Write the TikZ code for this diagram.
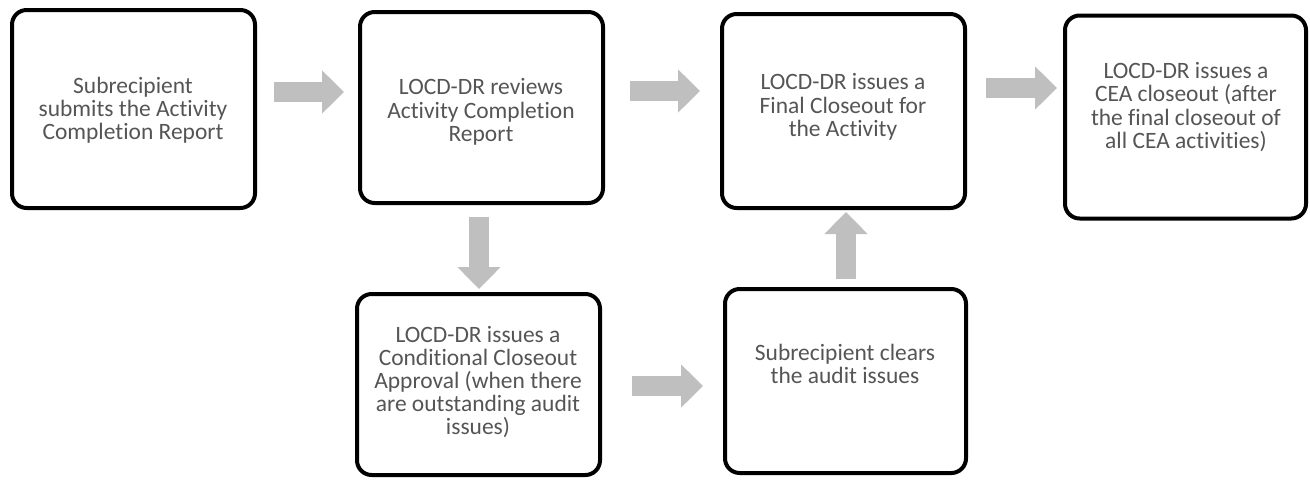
\documentclass[tikz,border=0pt]{standalone}
\usepackage{fontspec}
\setmainfont{Carlito}[Ligatures=NoCommon]
\usetikzlibrary{arrows.meta,calc}
\definecolor{txtgray}{HTML}{555555}
\definecolor{arrgray}{HTML}{BFBFBF}
\begin{document}
\begin{tikzpicture}[x=0.75pt,y=-0.75pt,
  box/.style={draw=black,line width=3pt,rounded corners=11pt,fill=white,inner sep=0pt},
  txt/.style={text=txtgray,align=center,font=\fontsize{17.6}{17.4}\selectfont,inner sep=0pt},
  barrow/.style={draw=arrgray,line width=15pt,-{Triangle[width=31.5pt,length=16.5pt]}}]
\useasboundingbox (0,0) rectangle (1310,479);
% boxes
\node[box,minimum width=182.25pt,minimum height=148.5pt] (b1) at (133.5,109) {};
\node[box,minimum width=182.25pt,minimum height=143.25pt] (b2) at (481.5,107.5) {};
\node[box,minimum width=182.25pt,minimum height=145.5pt] (b3) at (843.5,111) {};
\node[box,minimum width=180.75pt,minimum height=152.25pt] (b4) at (1185.5,117) {};
\node[box,minimum width=182.25pt,minimum height=135.75pt] (b5) at (478.5,384.5) {};
\node[box,minimum width=180.75pt,minimum height=138pt] (b6) at (845.5,381) {};
% texts
\node[txt] (t1) at (133,110) {Subrecipient\\submits the Activity\\Completion Report};
\node[txt] (t2) at (481,112) {LOCD-DR reviews\\Activity Completion\\Report};
\node[txt] (t3) at (843,107) {LOCD-DR issues a\\Final Closeout for\\the Activity};
\node[txt] (t4) at (1186,107) {LOCD-DR issues a\\CEA closeout (after\\the final closeout of\\all CEA activities)};
\node[txt] (t5) at (478,382) {LOCD-DR issues a\\Conditional Closeout\\Approval (when there\\are outstanding audit\\issues)};
\node[txt] (t6) at (845,364) {Subrecipient clears\\the audit issues};
% arrows
\draw[barrow] ([xshift=12.75pt,yshift=12.75pt]b1.east) coordinate (s12) -- ([xshift=-10.5pt]b2.west |- s12);
\draw[barrow] ([xshift=18.75pt,yshift=12.375pt]b2.east) coordinate (s23) -- ([xshift=-15pt]b3.west |- s23);
\draw[barrow] ([xshift=14.25pt,yshift=17.25pt]b3.east) coordinate (s34) -- ([xshift=-4.5pt]b4.west |- s34);
\draw[barrow] ([xshift=-1.875pt,yshift=-9pt]b2.south) coordinate (s25) -- ([yshift=2.25pt]b5.north -| s25);
\draw[barrow] ([xshift=22.5pt,yshift=-1.125pt]b5.east) coordinate (s56) -- ([xshift=-15pt]b6.west |- s56);
\draw[barrow] ([xshift=0.375pt,yshift=6pt]b6.north) coordinate (s63) -- ([yshift=-1.5pt]b3.south -| s63);
\end{tikzpicture}
\end{document}
